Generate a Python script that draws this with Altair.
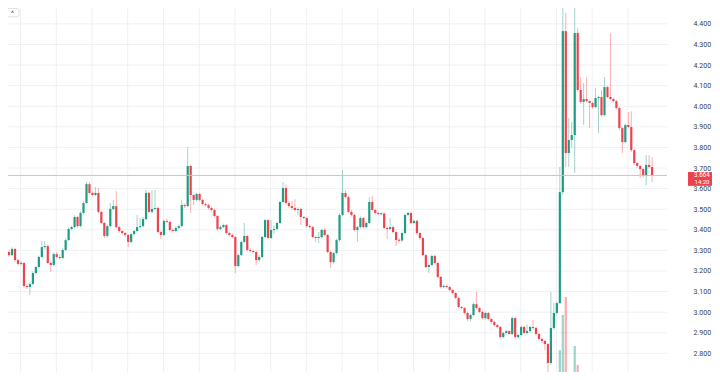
import altair as alt
import pandas as pd

# ---- data (TRUMP candles) ----
first_open = 3.302
close = [
    3.292, 3.277, 3.307, 3.253, 3.234, 3.239, 3.127, 3.122, 3.137, 3.190,
    3.219, 3.268, 3.316, 3.321, 3.239, 3.229, 3.282, 3.268, 3.263, 3.302,
    3.350, 3.404, 3.413, 3.462, 3.418, 3.482, 3.530, 3.622, 3.579, 3.569,
    3.579, 3.487, 3.433, 3.370, 3.418, 3.501, 3.515, 3.413, 3.394, 3.384,
    3.375, 3.341, 3.379, 3.394, 3.413, 3.418, 3.452, 3.579, 3.487, 3.501,
    3.506, 3.389, 3.375, 3.443, 3.438, 3.399, 3.394, 3.409, 3.418, 3.520,
    3.515, 3.710, 3.569, 3.545, 3.574, 3.545, 3.525, 3.520, 3.506, 3.496,
    3.467, 3.404, 3.413, 3.423, 3.384, 3.375, 3.365, 3.224, 3.277, 3.341,
    3.370, 3.302, 3.297, 3.292, 3.253, 3.268, 3.365, 3.447, 3.360, 3.399,
    3.404, 3.433, 3.535, 3.603, 3.530, 3.515, 3.506, 3.496, 3.501, 3.462,
    3.457, 3.418, 3.413, 3.365, 3.360, 3.365, 3.399, 3.375, 3.292, 3.243,
    3.287, 3.350, 3.472, 3.579, 3.559, 3.487, 3.472, 3.399, 3.413, 3.457,
    3.413, 3.433, 3.535, 3.496, 3.482, 3.477, 3.479, 3.409, 3.404, 3.413,
    3.389, 3.350, 3.348, 3.384, 3.472, 3.482, 3.433, 3.443, 3.384, 3.360,
    3.277, 3.219, 3.229, 3.273, 3.239, 3.171, 3.122, 3.127, 3.122, 3.108,
    3.093, 3.069, 3.025, 3.020, 2.996, 2.967, 2.986, 3.039, 3.020, 3.001,
    2.971, 2.996, 2.967, 2.952, 2.937, 2.928, 2.879, 2.899, 2.908, 2.894,
    2.971, 2.879, 2.889, 2.928, 2.899, 2.908, 2.928, 2.923, 2.894, 2.870,
    2.860, 2.845, 2.753, 2.923, 2.996, 3.044, 3.583, 4.365, 3.773, 3.836,
    3.860, 4.356, 4.079, 4.021, 4.035, 4.025, 4.016, 3.996, 4.040, 4.045,
    3.957, 4.093, 4.045, 4.035, 4.025, 3.991, 3.894, 3.826, 3.909, 3.899,
    3.787, 3.724, 3.710, 3.695, 3.661, 3.715, 3.705, 3.664,
]
high = [
    3.310, 3.300, 3.315, 3.312, 3.258, 3.248, 3.243, 3.135, 3.145, 3.198,
    3.226, 3.275, 3.345, 3.345, 3.328, 3.245, 3.290, 3.292, 3.280, 3.310,
    3.358, 3.412, 3.420, 3.470, 3.468, 3.490, 3.538, 3.632, 3.632, 3.586,
    3.608, 3.603, 3.492, 3.438, 3.425, 3.530, 3.545, 3.588, 3.420, 3.400,
    3.390, 3.380, 3.386, 3.400, 3.472, 3.457, 3.462, 3.593, 3.585, 3.593,
    3.593, 3.512, 3.395, 3.450, 3.455, 3.445, 3.406, 3.416, 3.425, 3.545,
    3.528, 3.802, 3.716, 3.575, 3.580, 3.580, 3.550, 3.532, 3.526, 3.512,
    3.502, 3.472, 3.420, 3.430, 3.428, 3.392, 3.382, 3.370, 3.284, 3.348,
    3.433, 3.376, 3.310, 3.304, 3.298, 3.276, 3.372, 3.455, 3.452, 3.447,
    3.420, 3.440, 3.542, 3.632, 3.620, 3.540, 3.540, 3.549, 3.510, 3.508,
    3.468, 3.462, 3.425, 3.420, 3.372, 3.390, 3.406, 3.410, 3.380, 3.298,
    3.294, 3.357, 3.480, 3.690, 3.590, 3.565, 3.495, 3.478, 3.420, 3.465,
    3.462, 3.440, 3.559, 3.564, 3.502, 3.488, 3.485, 3.484, 3.415, 3.457,
    3.420, 3.395, 3.360, 3.392, 3.480, 3.487, 3.488, 3.450, 3.450, 3.390,
    3.366, 3.282, 3.236, 3.280, 3.280, 3.245, 3.176, 3.135, 3.134, 3.128,
    3.113, 3.098, 3.074, 3.030, 3.025, 3.001, 2.992, 3.046, 3.098, 3.026,
    3.008, 3.003, 3.001, 2.972, 2.957, 2.942, 2.933, 2.905, 2.915, 2.913,
    2.978, 2.976, 2.896, 2.935, 2.935, 2.940, 2.935, 2.962, 2.930, 2.899,
    2.876, 2.866, 2.850, 3.098, 3.044, 3.052, 3.705, 4.501, 4.453, 3.943,
    3.923, 4.492, 4.380, 4.142, 4.113, 4.142, 4.030, 4.022, 4.089, 4.052,
    4.079, 4.142, 4.100, 4.356, 4.042, 4.032, 3.998, 3.900, 3.916, 3.972,
    3.975, 3.792, 3.730, 3.716, 3.700, 3.763, 3.763, 3.753,
]
low = [
    3.285, 3.270, 3.272, 3.245, 3.228, 3.225, 3.117, 3.112, 3.083, 3.130,
    3.182, 3.212, 3.262, 3.305, 3.232, 3.195, 3.222, 3.260, 3.255, 3.258,
    3.296, 3.345, 3.398, 3.408, 3.410, 3.412, 3.476, 3.525, 3.572, 3.562,
    3.563, 3.480, 3.426, 3.360, 3.362, 3.412, 3.495, 3.405, 3.386, 3.377,
    3.365, 3.316, 3.335, 3.372, 3.388, 3.406, 3.410, 3.446, 3.480, 3.481,
    3.495, 3.382, 3.355, 3.368, 3.432, 3.392, 3.386, 3.388, 3.403, 3.412,
    3.505, 3.510, 3.482, 3.520, 3.538, 3.538, 3.518, 3.512, 3.498, 3.488,
    3.460, 3.396, 3.398, 3.408, 3.377, 3.368, 3.358, 3.190, 3.218, 3.271,
    3.335, 3.295, 3.290, 3.285, 3.229, 3.246, 3.262, 3.358, 3.352, 3.354,
    3.380, 3.398, 3.428, 3.528, 3.522, 3.508, 3.498, 3.488, 3.470, 3.423,
    3.450, 3.410, 3.405, 3.358, 3.340, 3.335, 3.358, 3.368, 3.285, 3.214,
    3.236, 3.280, 3.343, 3.465, 3.552, 3.480, 3.465, 3.392, 3.341, 3.406,
    3.406, 3.406, 3.428, 3.490, 3.476, 3.470, 3.470, 3.402, 3.355, 3.398,
    3.382, 3.321, 3.338, 3.342, 3.378, 3.466, 3.426, 3.428, 3.376, 3.352,
    3.270, 3.212, 3.190, 3.222, 3.232, 3.164, 3.115, 3.116, 3.114, 3.100,
    3.086, 3.062, 3.018, 3.013, 2.988, 2.957, 2.955, 2.980, 3.014, 2.994,
    2.964, 2.964, 2.960, 2.944, 2.930, 2.920, 2.872, 2.872, 2.890, 2.888,
    2.888, 2.872, 2.870, 2.882, 2.892, 2.892, 2.900, 2.915, 2.886, 2.862,
    2.850, 2.816, 2.704, 2.746, 2.915, 2.990, 3.038, 3.570, 3.705, 3.705,
    3.800, 3.676, 4.070, 4.012, 3.909, 4.018, 3.894, 3.988, 3.990, 3.870,
    3.950, 3.950, 4.038, 4.028, 4.018, 3.984, 3.886, 3.773, 3.820, 3.892,
    3.778, 3.716, 3.702, 3.651, 3.654, 3.617, 3.698, 3.632,
]
# visible volume bars (millions) near the spike
vol_index = [183, 186, 187, 188, 189, 191, 192]
vol_value = [6.2, 11.1, 18.9, 22.9, 5.6, 12.0, 7.8]

price_ticks = [2.7, 2.8, 2.9, 3.0, 3.1, 3.2, 3.3, 3.4, 3.5, 3.6, 3.7,
               3.8, 3.9, 4.0, 4.1, 4.2, 4.3, 4.4, 4.5]
time_grid = [4.86, 16.86, 28.86, 40.86, 52.86, 64.86, 76.86, 88.86, 100.86,
             112.86, 124.86, 136.86, 148.86, 160.86, 172.86, 184.86, 196.86,
             208.86]
last_price = 3.664
last_time = "14:20"
collapse_glyph = "^"

# ---- styling ----
UP = "#1f9c82"
DOWN = "#ee434d"
GRID = "#eef0f4"
FONT = "Roboto"

n = len(close)
opens = [first_open] + close[:-1]
df = pd.DataFrame({"i": list(range(n)), "open": opens, "close": close,
                   "high": high, "low": low})
df["dir"] = ["up" if c >= o else "down" for o, c in zip(df.open, df.close)]
top = df[["open", "close"]].max(axis=1)
bot = df[["open", "close"]].min(axis=1)
mid = (top + bot) / 2
thin = (top - bot) < 0.005
df["top"] = top.where(~thin, mid + 0.0025)
df["bot"] = bot.where(~thin, mid - 0.0025)

vdf = pd.DataFrame({"i": vol_index, "vol": vol_value, "base": [0.0] * len(vol_index)})
vdf["dir"] = [df.loc[k, "dir"] for k in vol_index]

lp = pd.DataFrame({"p": [last_price], "lbl": [f"{last_price:.3f}"], "t": [last_time]})
btn = pd.DataFrame({"g": [collapse_glyph]})

xscale = alt.Scale(domain=[2.316, 220.32], nice=False, zero=False)
pscale = alt.Scale(domain=[2.7093, 4.4772], nice=False, zero=False)
cscale = alt.Scale(domain=["up", "down"], range=[UP, DOWN])

# price grid (horizontal) and time grid (vertical) drawn as rules from the tick lists
hgrid = alt.Chart(pd.DataFrame({"p": price_ticks})).mark_rule(
    stroke=GRID, strokeWidth=1, clip=True).encode(
    y=alt.Y("p:Q", scale=pscale,
            axis=alt.Axis(orient="right", values=price_ticks, format=".3f", title=None,
                          grid=False, ticks=False, domain=False, labelPadding=26,
                          labelFont=FONT, labelFontSize=7, labelColor="#3a3e48")),
)
vgrid = alt.Chart(pd.DataFrame({"i": time_grid})).mark_rule(
    stroke=GRID, strokeWidth=1, clip=True).encode(
    x=alt.X("i:Q", scale=xscale, axis=None),
)

xplain = alt.X("i:Q", scale=xscale, axis=None)

volume = alt.Chart(vdf).mark_bar(size=2.3, clip=True, opacity=0.42).encode(
    x=xplain,
    y=alt.Y("vol:Q", scale=alt.Scale(domain=[6.22, 87.1], nice=False, zero=False), axis=None),
    y2="base:Q",
    color=alt.Color("dir:N", scale=cscale, legend=None),
)

wicks = alt.Chart(df).mark_rule(clip=True, strokeWidth=1, opacity=0.42).encode(
    x=xplain,
    y=alt.Y("low:Q", scale=pscale, axis=None),
    y2="high:Q",
    color=alt.Color("dir:N", scale=cscale, legend=None),
)

bodies = alt.Chart(df).mark_bar(size=2.2, clip=True).encode(
    x=xplain,
    y=alt.Y("bot:Q", scale=pscale, axis=None),
    y2="top:Q",
    color=alt.Color("dir:N", scale=cscale, legend=None),
)

pline = alt.Chart(lp).mark_rule(stroke="#f7b0b6", strokeWidth=1, clip=True).encode(
    y=alt.Y("p:Q", scale=pscale, axis=None),
)

pbox = alt.Chart(lp).mark_rect(fill="#ee434d", yOffset=-3.4, y2Offset=10.4, clip=False).encode(
    y=alt.Y("p:Q", scale=pscale, axis=None),
    y2="p:Q",
    x=alt.value(680),
    x2=alt.value(704),
)

ptext = alt.Chart(lp).mark_text(color="white", font=FONT, fontSize=6.3, align="center",
                                baseline="middle", dy=-0.2).encode(
    y=alt.Y("p:Q", scale=pscale, axis=None),
    x=alt.value(694),
    text="lbl:N",
)
ttext = alt.Chart(lp).mark_text(color="white", font=FONT, fontSize=6.0, align="center",
                                baseline="middle", dy=6.8).encode(
    y=alt.Y("p:Q", scale=pscale, axis=None),
    x=alt.value(694),
    text="t:N",
)

button = alt.Chart(btn).mark_rect(fill="white", stroke="#dfe2ea", strokeWidth=1,
                                  cornerRadius=2, clip=False).encode(
    x=alt.value(-2), x2=alt.value(11), y=alt.value(0.5), y2=alt.value(8.8),
)
button_txt = alt.Chart(btn).mark_text(font=FONT, fontSize=7, color="#434651",
                                      align="center", baseline="middle").encode(
    x=alt.value(4.5), y=alt.value(6), text="g:N",
)

chart = alt.layer(hgrid, vgrid, volume, wicks, bodies, pline, pbox, ptext, ttext,
                  button, button_txt).resolve_scale(
    y="independent"
).properties(
    width=659, height=364,
    autosize=alt.AutoSizeParams(type="none"),
    padding={"left": 0, "top": 0, "right": 45, "bottom": 0},
).configure_view(strokeWidth=0, stroke="transparent")

chart.save("out.html", embed_options={"renderer": "svg", "actions": False})
